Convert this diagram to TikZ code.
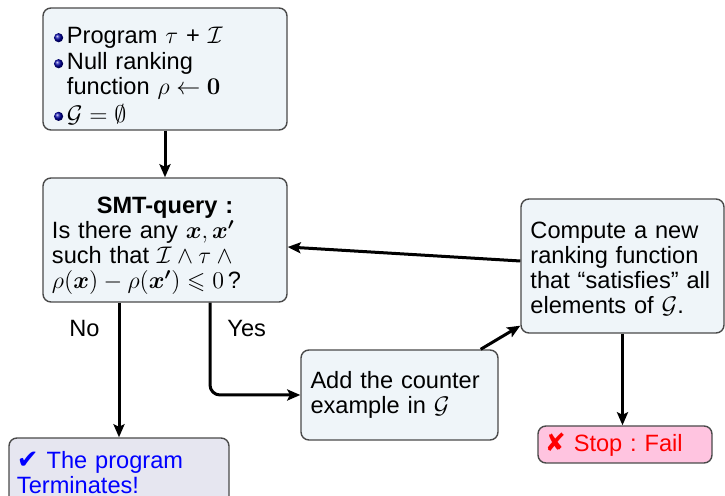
\documentclass[tikz,border=0pt]{standalone}
\usepackage{amsmath,amssymb}
\usepackage[no-math]{fontspec}
\setmainfont{Liberation Sans}
\newfontfamily\symfont{DejaVu Sans}
\usetikzlibrary{arrows.meta,calc}
\definecolor{boxfill}{HTML}{EFF5F9}
\definecolor{boxdraw}{HTML}{4A4A4A}
\definecolor{termfill}{HTML}{E6E6F0}
\definecolor{stopfill}{HTML}{FFC4E0}
\newcommand{\myball}{\tikz[baseline=0pt]\shade[ball color=blue!65!black] (0pt,2.9pt) circle (2.3pt);}
\begin{document}
\begin{tikzpicture}[x=0.5pt,y=-0.5pt,
  font=\fontsize{11.8}{12.5}\selectfont,
  box/.style={draw=boxdraw, line width=0.7pt, fill=boxfill, rounded corners=4pt,
    inner xsep=4.5pt, inner ysep=0pt, align=left},
  arr/.style={line width=1.5pt, -{Stealth[length=6.5pt,width=5.5pt,inset=1.3pt]}},
  lbl/.style={inner sep=0pt}]
\useasboundingbox (0,0) rectangle (725,496);

\node[box, minimum width=122pt, minimum height=61pt, text width=111pt, inner xsep=5.5pt] (init) at (165,69)
  {\rule{0pt}{15pt}\makebox[6.5pt][l]{\myball}Program $\tau$ + $\mathcal{I}$\\[0.5pt]
   \makebox[6.5pt][l]{\myball}\parbox[t]{100pt}{Null ranking\\function $\rho\leftarrow\mathbf{0}$}\\[1.5pt]
   \makebox[6.5pt][l]{\myball}$\mathcal{G}=\emptyset$};

\node[box, minimum width=122pt, minimum height=62pt, text width=113pt] (smt) at (165,240)
  {\rule{0pt}{14pt}\hfill{\bfseries SMT-query :}\hfill\null\\
   Is there any $\boldsymbol{x},\boldsymbol{x'}$\\
   such that $\mathcal{I}\wedge\tau\wedge{}$\\
   $\rho(\boldsymbol{x})-\rho(\boldsymbol{x'})\leqslant 0$\,?};

\node[box, minimum width=101.5pt, minimum height=67pt, text width=92pt] (comp) at (622.5,266)
  {\rule{0pt}{11pt}Compute a new\\ranking function\\that ``satisfies'' all\\elements of $\mathcal{G}$.};

\node[box, minimum width=98.5pt, minimum height=45pt, text width=89pt] (add) at (399.5,395)
  {Add the counter\\example in $\mathcal{G}$};

\node[box, fill=termfill, text=blue, minimum width=110pt, minimum height=34.5pt, text width=102pt, inner xsep=3pt] (term) at (119,472.5)
  {{\symfont\fontsize{13}{12.5}\selectfont ✔} The program\\Terminates!};

\node[box, fill=stopfill, text=red, minimum width=87pt, minimum height=18.5pt, text width=80pt, inner xsep=3.5pt] (stop) at (625,444.5)
  {{\symfont\fontsize{12.5}{12.5}\selectfont ✘} Stop :\ Fail};

\draw[arr] (init.south) -- (smt.north);
\draw[arr] ([yshift=2.5pt]comp.west) -- ([yshift=-3.5pt]smt.east);
\draw[arr] (smt.south -| term.north) -- node[lbl, pos=0.19, left=9pt] {No} (term.north);
\draw[arr, rounded corners=5pt] ([xshift=22.5pt]smt.south) |- node[lbl, pos=0.14, right=8pt] {Yes} (add.west);
\draw[arr] ([xshift=-9pt]add.north east) -- ([yshift=4pt]comp.south west);
\draw[arr] (comp.south) -- (comp.south |- stop.north);
\end{tikzpicture}
\end{document}
